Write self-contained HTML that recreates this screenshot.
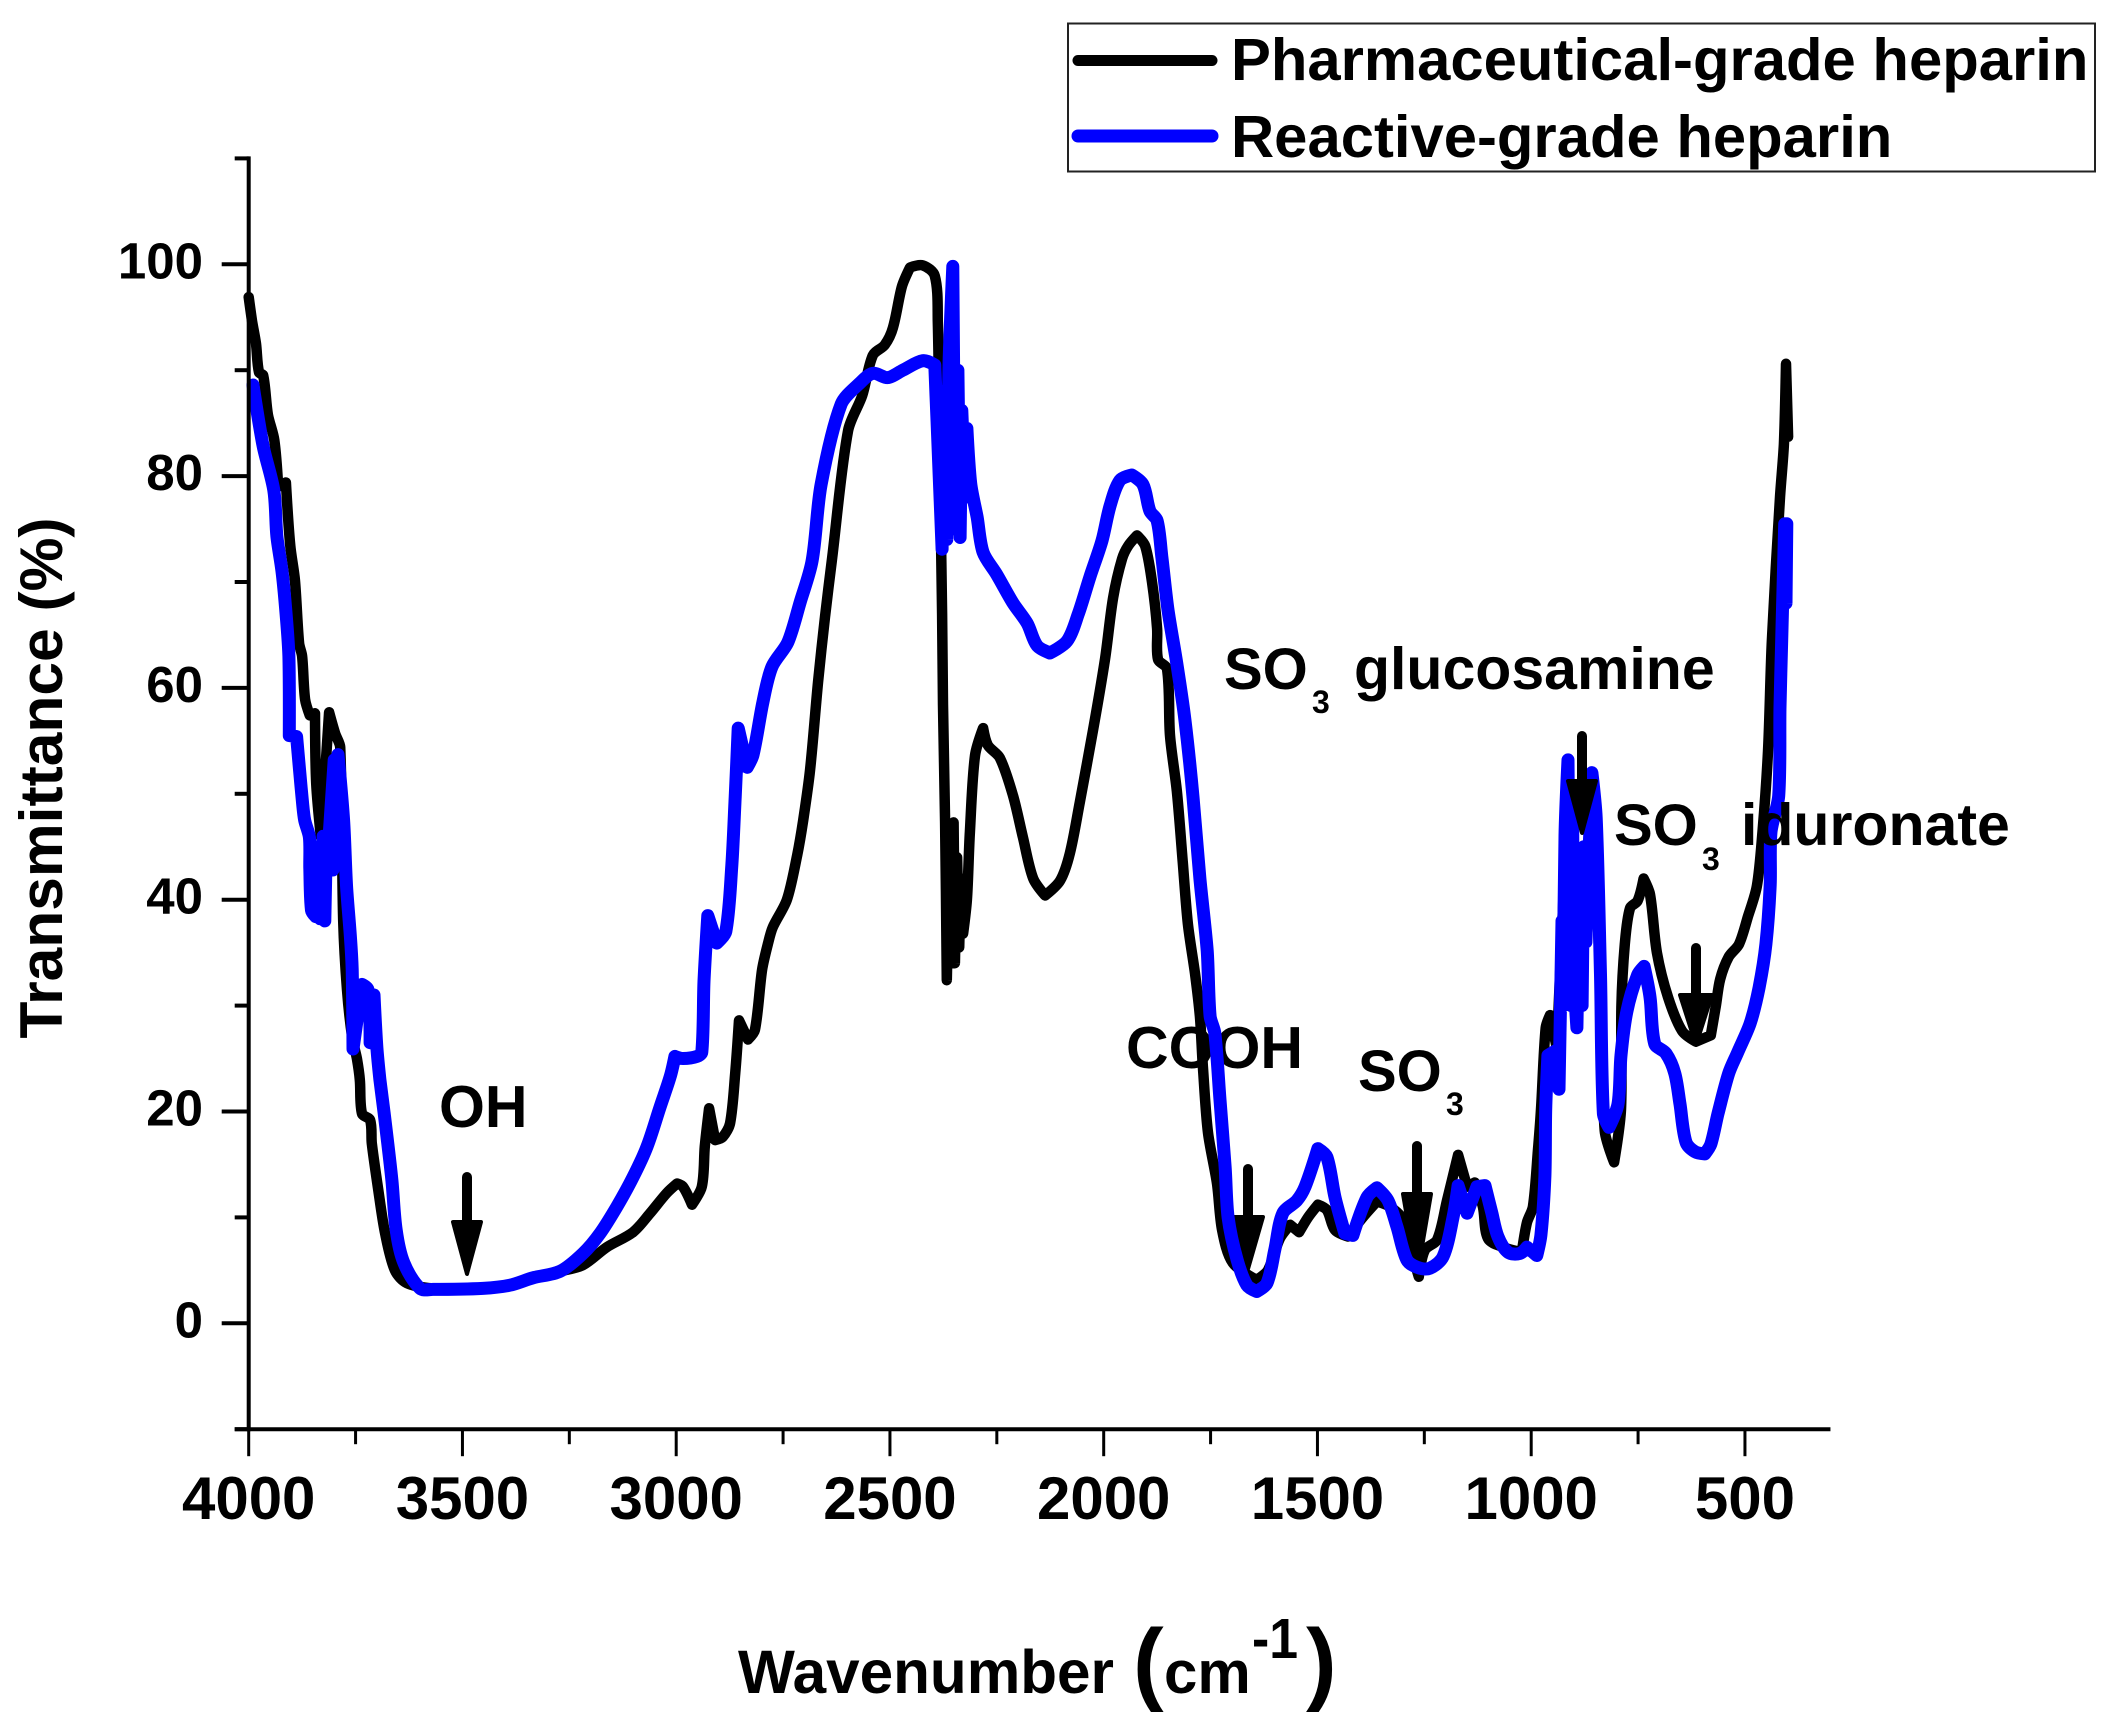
<!DOCTYPE html>
<html lang="en">
<head>
<meta charset="utf-8">
<title>FTIR spectra of heparin</title>
<style>
  html, body { margin: 0; padding: 0; background: #fff; }
  svg { display: block; }
  text { font-family: "Liberation Sans", sans-serif; font-weight: bold; fill: #000; }
</style>
</head>
<body>
<svg id="chart" xmlns="http://www.w3.org/2000/svg" width="2111" height="1724" viewBox="0 0 2111 1724">
  <rect x="0" y="0" width="2111" height="1724" fill="#fff"/>

  <g id="under-annotations">
    <text x="1126" y="1068" font-size="59">COOH</text>
    <g>
      <line x1="1248" y1="1169" x2="1248" y2="1220" stroke="#000" stroke-width="10" stroke-linecap="round"/>
      <polygon points="1233,1217 1263,1217 1248,1269" fill="#000" stroke="#000" stroke-width="4" stroke-linejoin="round"/>
    </g>
    <g>
      <line x1="1417" y1="1146" x2="1417" y2="1197" stroke="#000" stroke-width="10" stroke-linecap="round"/>
      <polygon points="1403,1194 1431,1194 1417,1276" fill="#000" stroke="#000" stroke-width="4" stroke-linejoin="round"/>
    </g>
  </g>

  <g id="series"></g>
  <g id="axes"></g>

  <g id="over-annotations">
    <text x="439" y="1127" font-size="59">OH</text>
    <g>
      <line x1="467" y1="1177" x2="467" y2="1225" stroke="#000" stroke-width="10" stroke-linecap="round"/>
      <polygon points="453,1222 481,1222 467,1274" fill="#000" stroke="#000" stroke-width="4" stroke-linejoin="round"/>
    </g>

    <text x="1358" y="1091" font-size="58">SO</text>
    <text x="1446" y="1115" font-size="32">3</text>

    <text x="1224" y="689" font-size="58">SO</text>
    <text x="1312" y="713" font-size="32">3</text>
    <text x="1354" y="689" font-size="59">glucosamine</text>
    <g>
      <line x1="1582" y1="736" x2="1582" y2="784" stroke="#000" stroke-width="10" stroke-linecap="round"/>
      <polygon points="1568,781 1596,781 1582,833" fill="#000" stroke="#000" stroke-width="4" stroke-linejoin="round"/>
    </g>

    <text x="1614" y="845" font-size="58">SO</text>
    <text x="1702" y="870" font-size="32">3</text>
    <text x="1741" y="845" font-size="59">iduronate</text>
    <g>
      <line x1="1696" y1="948" x2="1696" y2="998" stroke="#000" stroke-width="10" stroke-linecap="round"/>
      <polygon points="1680,995 1712,995 1696,1045" fill="#000" stroke="#000" stroke-width="4" stroke-linejoin="round"/>
    </g>
  </g>

  <text transform="translate(62 778) rotate(-90)" text-anchor="middle" font-size="60.5">Transmittance (%)</text>

  <g>
    <text x="738" y="1693" font-size="61" textLength="376" lengthAdjust="spacingAndGlyphs">Wavenumber</text>
    <text x="1133" y="1693" font-size="92">(</text>
    <text x="1164" y="1693" font-size="60">cm</text>
    <text x="1252" y="1658" font-size="57" textLength="46" lengthAdjust="spacingAndGlyphs">-1</text>
    <text x="1306" y="1693" font-size="92">)</text>
  </g>

  <g>
    <rect x="1068" y="23.5" width="1027" height="148" fill="#fff" stroke="#222" stroke-width="2"/>
    <line x1="1078" y1="60.5" x2="1212" y2="60.5" stroke="#000" stroke-width="11" stroke-linecap="round"/>
    <text x="1231" y="80" font-size="59.8">Pharmaceutical-grade heparin</text>
    <line x1="1078" y1="136" x2="1212" y2="136" stroke="#0000ff" stroke-width="13" stroke-linecap="round"/>
    <text x="1231" y="157" font-size="59.8">Reactive-grade heparin</text>
  </g>
</svg>

<script>
// ---- chart data ----
const pharmaWavenumbers = [4000,3992,3983,3976,3966,3955,3940,3931,3913,3903,3892,3882,3875,3868,3857,3845,3842,3831,3812,3798,3786,3779,3770,3758,3747,3740,3735,3716,3712,3698,3681,3658,3630,3569,3452,3389,3335,3272,3218,3162,3101,3061,3022,2998,2984,2963,2940,2933,2923,2909,2891,2874,2862,2853,2832,2816,2799,2785,2774,2741,2717,2703,2687,2668,2652,2636,2598,2565,2540,2512,2493,2472,2453,2423,2395,2388,2383,2378,2376,2371,2367,2360,2355,2351,2348,2343,2338,2334,2329,2320,2313,2301,2282,2271,2243,2212,2189,2165,2137,2102,2079,2056,2025,1997,1978,1957,1943,1922,1903,1887,1875,1873,1852,1845,1829,1815,1803,1786,1775,1768,1756,1735,1723,1698,1642,1616,1588,1564,1543,1522,1499,1478,1459,1429,1394,1361,1330,1300,1279,1263,1249,1220,1197,1171,1150,1132,1113,1101,1066,1022,1010,996,984,977,966,956,940,914,893,876,858,839,828,806,790,789,781,769,751,737,722,706,680,647,615,580,568,558,538,514,493,472,459,446,437,418,409,404,399];
const pharmaTransmittance = [96.9,94.6,92.5,89.8,89.5,85.8,83.4,79,79.4,73.5,70.2,64.2,63,58.9,57.4,57.6,51,45.9,57.7,55.7,54.4,38,31.5,27,25,23,19.8,19.2,17,12.9,8.5,5,3.8,3.3,3.3,3.6,4.3,4.9,5.5,7.2,8.6,10.4,12.3,13.2,12.9,11.2,12.9,16.7,20.3,17.3,17.6,18.9,23.6,28.6,26.8,27.7,33.4,35.9,37.4,40,44.2,47.5,52.2,60.6,66.7,72,84.3,87.6,91.4,92.4,94,97.9,99.7,99.9,98.9,94.6,80.1,67,58.4,47.3,32.4,46,34,47.3,34,44,35.5,42,36.8,40,46.4,53.6,56.2,54.6,53.4,49.8,45.9,42,40.4,41.8,44.4,49.2,56,62.7,68.5,72.2,73.4,74.4,73.4,70,65.6,62.7,61.8,55.5,50.3,43.5,37.7,32.9,29,24.2,18,13.2,8.8,5.7,4.1,5,8,9.3,8.6,10,11.2,10.7,8.8,8.2,10,11.5,11,9.8,6.6,4.4,6.9,7.9,11.6,15.9,12.9,13.3,11,8,7.2,6.7,9.5,11,16.4,20.2,27.9,29.1,26,50,30,40,50,33,18.2,15.2,20.2,29.9,35.8,39.2,39.9,42,40.5,35,30.8,27.6,26.6,27.2,30,32.5,34.6,35.8,38.4,41.3,46.4,54,64.5,78,83,90.6,83.7];

const reactiveWavenumbers = [3990,3966,3941,3934,3922,3913,3906,3905,3888,3881,3874,3869,3858,3857,3853,3843,3838,3833,3826,3822,3818,3814,3800,3803,3791,3778,3771,3762,3758,3756,3735,3721,3716,3707,3700,3693,3683,3665,3655,3637,3599,3569,3452,3389,3335,3272,3218,3178,3139,3101,3068,3038,3014,3003,2984,2951,2940,2935,2926,2905,2884,2870,2862,2855,2834,2820,2797,2776,2739,2710,2682,2661,2614,2570,2540,2505,2470,2423,2395,2390,2378,2374,2367,2362,2353,2348,2341,2336,2332,2324,2320,2311,2296,2282,2250,2212,2179,2156,2126,2086,2060,2032,2004,1985,1962,1934,1908,1892,1875,1864,1850,1829,1810,1791,1775,1758,1751,1740,1728,1716,1709,1688,1665,1642,1618,1600,1581,1548,1529,1499,1478,1459,1436,1417,1384,1361,1335,1314,1291,1267,1237,1206,1183,1171,1150,1127,1108,1092,1078,1054,1026,1010,987,977,968,966,961,940,935,928,925,921,914,911,907,903,900,893,886,881,877,872,858,848,838,831,818,797,790,776,751,736,722,711,685,664,652,638,617,594,580,563,538,518,488,467,451,441,439,421,418,414,407,404,402];
const reactiveTransmittance = [88.6,82.8,78.6,74.3,71,67.2,63,55.5,55.4,52.2,49.1,47.5,45.9,43,39,38.4,45,38.2,46,38,46,44.7,53.2,42.8,53.7,47.5,41.2,36.5,33.4,25.9,32,31.5,26.5,31,26,23,19.8,13.5,8.8,5.7,3.3,3.2,3.3,3.6,4.3,4.9,6.6,8.5,11,13.8,16.7,20.4,23.3,25.2,25,25.2,25.6,32.3,38.5,35.9,37,43.2,49.7,56.2,52.5,53.7,58.7,62,64.3,68.1,72,79.2,86.8,88.8,89.7,89.3,90,90.9,90.5,85.3,73.1,88,74,90,99.8,75,90,74.2,86.2,78,84.5,79.3,76.1,72.8,70.7,68,66.1,64,63.3,64.4,66.9,70.5,73.9,77.2,79.6,80.1,79.2,76.7,75.8,72.4,67.5,62.3,57,49.7,42,35.2,29,27.4,21.1,14.8,10,6,3.6,3,3.8,6.9,10.4,11.6,12.9,16.5,15.7,11.9,8.5,8.3,11.9,12.8,11.6,9.1,6,5.3,5.2,6.3,10,13,10.4,12.9,13,10.4,8.2,6.7,6.6,7.2,6.4,8.4,13.9,20.2,25.3,25.8,22.1,38,30,46,53.2,40,30,48,33,27.9,44,30,45,36,52,47.7,32.9,19.8,18.5,20.7,25.3,29.5,32.9,33.7,30.8,26.4,25.5,23.6,20.7,17.1,16.2,16,16.9,19.8,23.6,25.5,28.3,31.7,35.8,41.4,46.4,49.8,58.2,64.5,75.5,68,75.5];

const xMajorTicks = [4000,3500,3000,2500,2000,1500,1000,500];
const xMinorTicks = [3750,3250,2750,2250,1750,1250,750];
const yMajorTicks = [0,20,40,60,80,100];
const yMinorTicks = [-10,10,30,50,70,90,110];

// ---- axis functions ----
function xScale(v) { return 248.7 + (4000 - v) * 0.4275; }
function yScale(v) { return 1323.3 - v * 10.59; }

const NS = 'http://www.w3.org/2000/svg';
const seriesGroup = document.getElementById('series');
const axesGroup = document.getElementById('axes');

function makeSvg(tag, attrs, parent) {
  const el = document.createElementNS(NS, tag);
  for (const key in attrs) { el.setAttribute(key, attrs[key]); }
  parent.appendChild(el);
  return el;
}

function unit(a, b) {
  const dx = b[0] - a[0];
  const dy = b[1] - a[1];
  const len = Math.hypot(dx, dy) || 1;
  return [dx / len, dy / len];
}

// Path through every data point. Gentle bends are smoothed; sharp turns
// (the narrow spikes in the spectrum) stay as corners so nothing bulges.
function pathFrom(xs, ys) {
  const pts = xs.map(function (v, i) { return [xScale(v), yScale(ys[i])]; });
  const tangents = pts.map(function (p, i) {
    if (i === 0 || i === pts.length - 1) { return null; }
    const inc = unit(pts[i - 1], p);
    const out = unit(p, pts[i + 1]);
    if (inc[0] * out[0] + inc[1] * out[1] < 0.55) { return null; }
    return unit(pts[i - 1], pts[i + 1]);
  });
  let d = 'M' + pts[0][0].toFixed(1) + ' ' + pts[0][1].toFixed(1);
  for (let i = 0; i < pts.length - 1; i++) {
    const p = pts[i];
    const q = pts[i + 1];
    const h = Math.hypot(q[0] - p[0], q[1] - p[1]) * 0.3;
    const t0 = tangents[i] || [0, 0];
    const t1 = tangents[i + 1] || [0, 0];
    d += ' C' + (p[0] + t0[0] * h).toFixed(1) + ' ' + (p[1] + t0[1] * h).toFixed(1) +
         ' ' + (q[0] - t1[0] * h).toFixed(1) + ' ' + (q[1] - t1[1] * h).toFixed(1) +
         ' ' + q[0].toFixed(1) + ' ' + q[1].toFixed(1);
  }
  return d;
}

// series
const pharmaLine = makeSvg('path', { d: pathFrom(pharmaWavenumbers, pharmaTransmittance), fill: 'none', stroke: '#000', 'stroke-width': 10.5, 'stroke-linejoin': 'round', 'stroke-linecap': 'round' }, seriesGroup);



const reactiveLine = makeSvg('path', { d: pathFrom(reactiveWavenumbers, reactiveTransmittance), fill: 'none', stroke: '#0000ff', 'stroke-width': 13, 'stroke-linejoin': 'round', 'stroke-linecap': 'round' }, seriesGroup);



// axis lines
const yAxisLine = makeSvg('line', { x1: xScale(4000), y1: yScale(110) - 2, x2: xScale(4000), y2: yScale(-10) + 2, stroke: '#000', 'stroke-width': 4 }, axesGroup);



const xAxisLine = makeSvg('line', { x1: xScale(4000) - 14, y1: yScale(-10), x2: xScale(300), y2: yScale(-10), stroke: '#000', 'stroke-width': 4 }, axesGroup);



// x ticks
xMajorTicks.forEach(function (v) {
  const tick = makeSvg('line', { x1: xScale(v), y1: yScale(-10), x2: xScale(v), y2: yScale(-10) + 27, stroke: '#000', 'stroke-width': 3 }, axesGroup);
  
  
  const label = makeSvg('text', { x: xScale(v), y: 1519, 'text-anchor': 'middle', 'font-size': 60 }, axesGroup);
  label.textContent = String(v);
  
  
});
xMinorTicks.forEach(function (v) {
  const tick = makeSvg('line', { x1: xScale(v), y1: yScale(-10), x2: xScale(v), y2: yScale(-10) + 15, stroke: '#000', 'stroke-width': 3 }, axesGroup);
  
  
});

// y ticks
yMajorTicks.forEach(function (v) {
  const tick = makeSvg('line', { x1: xScale(4000) - 27, y1: yScale(v), x2: xScale(4000), y2: yScale(v), stroke: '#000', 'stroke-width': 4 }, axesGroup);
  
  
  const label = makeSvg('text', { x: 203, y: yScale(v) + 14, 'text-anchor': 'end', 'font-size': 51 }, axesGroup);
  label.textContent = String(v);
  
  
});
yMinorTicks.forEach(function (v) {
  const tick = makeSvg('line', { x1: xScale(4000) - 14, y1: yScale(v), x2: xScale(4000), y2: yScale(v), stroke: '#000', 'stroke-width': 4 }, axesGroup);
  
  
});
</script>
</body>
</html>
